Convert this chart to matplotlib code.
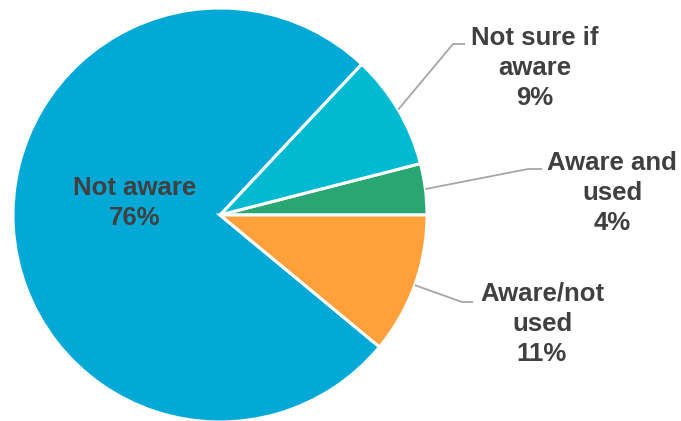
import numpy as np
import matplotlib
matplotlib.use("Agg")
import matplotlib.pyplot as plt

plt.rcParams['font.family'] = ['Liberation Sans', 'DejaVu Sans']

# Slice data, counter-clockwise from 3 o'clock
labels = ["Aware and\nused", "Not sure if\naware", "Not aware", "Aware/not\nused"]
values = [4, 9, 76, 11]
colors = ["#2AA673", "#00BAD2", "#02A8D6", "#FFA03A"]

W, H = 681, 421
fig = plt.figure(figsize=(W / 100, H / 100), dpi=100)
ax = fig.add_axes([0, 0, 1, 1])

cx, cy, r = 220, H - 215, 207
wedges, _ = ax.pie(values, colors=colors, startangle=0, counterclock=True,
                   center=(cx, cy), radius=r,
                   wedgeprops=dict(edgecolor="white", linewidth=2.2))
ax.set_xlim(0, W)
ax.set_ylim(0, H)
ax.set_aspect('equal')
ax.axis('off')

txt_color = "#404040"
line_color = "#A6A6A6"
fs = 18.5
ls = 1.32

def pct(v):
    return f"{v}%"

# Label inside the big slice
ax.text(135, H - 203, f"{labels[2]}\n{pct(values[2])}", ha="center", va="center",
        fontsize=fs, fontweight="bold", color=txt_color, linespacing=ls)

# Outside labels: (index, text centre, elbow point, line end)
outside = [
    (1, (535, 68), (453, 44), (465, 44)),
    (0, (612, 193), (528, 169), (542, 169)),
    (3, (542, 324), (462, 302), (473, 302)),
]
for idx, tpos, elbow, end in outside:
    w = wedges[idx]
    mid = np.deg2rad((w.theta1 + w.theta2) / 2)
    sx, sy = cx + r * np.cos(mid), cy + r * np.sin(mid)
    ax.plot([sx, elbow[0], end[0]], [sy, H - elbow[1], H - end[1]],
            color=line_color, lw=1.3, solid_capstyle="butt")
    ax.text(tpos[0], H - tpos[1], f"{labels[idx]}\n{pct(values[idx])}",
            ha="center", va="center", fontsize=fs, fontweight="bold",
            color=txt_color, linespacing=ls)

fig.savefig("out.png", dpi=100)
